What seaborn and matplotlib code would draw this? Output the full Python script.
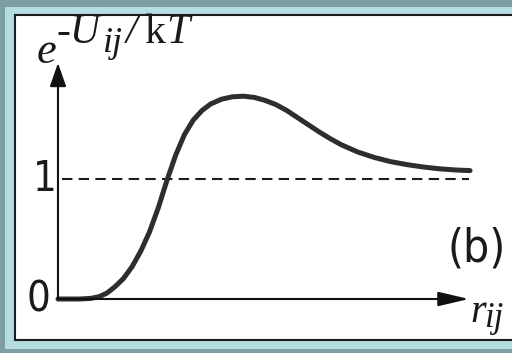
import matplotlib
matplotlib.use("Agg")
import matplotlib.pyplot as plt
from matplotlib.patches import Rectangle
import pandas as pd
import seaborn as sns

# Boltzmann factor exp(-U_ij/kT) against pair distance r_ij
r_ij = [0.00, 0.20, 0.30, 0.38, 0.45, 0.52, 0.60, 0.68, 0.76, 0.84, 0.92,
        1.00, 1.08, 1.16, 1.24, 1.32, 1.40, 1.50, 1.60, 1.70, 1.80, 1.90,
        2.00, 2.10, 2.20, 2.30, 2.40, 2.50, 2.60, 2.75, 2.90, 3.05, 3.20,
        3.35, 3.50, 3.65, 3.78]
boltzmann = [0.00, 0.00, 0.005, 0.02, 0.05, 0.10, 0.17, 0.27, 0.40, 0.56, 0.76,
             0.99, 1.20, 1.37, 1.49, 1.57, 1.625, 1.665, 1.685, 1.69, 1.68,
             1.655, 1.62, 1.57, 1.51, 1.45, 1.39, 1.335, 1.285, 1.225, 1.18,
             1.145, 1.12, 1.10, 1.085, 1.075, 1.07]
reference_level = [1.0, 1.0]
reference_span = [0.04, 3.77]
tick_values = [0, 1]
tick_labels = ["0", "1"]
panel_tag = "(b)"

sns.set_theme(style="white")
plt.rcParams["font.family"] = ["Liberation Sans Narrow", "DejaVu Sans"]

INK = "#1a1a1a"
narrow = dict(family=["Liberation Sans Narrow", "DejaVu Sans"],
              fontstretch="condensed", color=INK)
serif_it = dict(family=["Liberation Serif", "DejaVu Serif"], style="italic",
                color=INK)

fig = plt.figure(figsize=(5.12, 3.53), dpi=100)
fig.patch.set_facecolor("#7d9ea2")

# page frame: light band and the printed box
fig.add_artist(Rectangle((5 / 512, 4 / 353), 2.0, 342 / 353,
                         transform=fig.transFigure, facecolor="#b3dde0",
                         edgecolor="none", zorder=-2))
fig.add_artist(Rectangle((15 / 512, 13 / 353), 2.0, 325 / 353,
                         transform=fig.transFigure, facecolor="white",
                         edgecolor="#1c1c1c", linewidth=1.5, zorder=-1))

ax = fig.add_axes([0, 0, 1, 1])
ax.patch.set_alpha(0)
ax.set_xlim(-0.532, 4.165)
ax.set_ylim(-0.45, 2.4917)
ax.axis("off")

df = pd.DataFrame({"r": r_ij, "g": boltzmann})
sns.lineplot(data=df, x="r", y="g", ax=ax, color="#2e2e2e", linewidth=3.6,
             sort=False, estimator=None, solid_capstyle="round",
             solid_joinstyle="round", zorder=3)

ax.plot(reference_span, reference_level, color="#1c1c1c", linewidth=1.5,
        dashes=(5, 3), zorder=2)

# axes drawn as arrows
ax.annotate("", xy=(0.0, 1.967), xytext=(0.0, 0.0),
            arrowprops=dict(arrowstyle="-|>,head_length=0.72,head_width=0.25",
                            mutation_scale=20, color="#111111", lw=1.5,
                            shrinkA=0, shrinkB=0), zorder=4)
ax.annotate("", xy=(3.77, 0.0), xytext=(0.0, 0.0),
            arrowprops=dict(arrowstyle="-|>,head_length=0.94,head_width=0.22",
                            mutation_scale=20, color="#111111", lw=1.5,
                            shrinkA=0, shrinkB=0), zorder=4)

tick_x = [-0.18, -0.12]
for x, v, lab in zip(tick_x, tick_values, tick_labels):
    ax.text(x, v, lab, ha="center", va="center", fontsize=30, **narrow)

ax.text(3.844, 0.42, panel_tag, ha="center", va="center", fontsize=33, **narrow)

# ordinate label e^{-U_ij/kT}
ax.text(-0.193, 1.967, "e", ha="left", va="baseline", fontsize=32, **serif_it)
ax.text(-0.01, 2.133, "-U", ha="left", va="baseline", fontsize=30, **serif_it)
ax.text(0.41, 2.06, "ij", ha="left", va="baseline", fontsize=26, **serif_it)
ax.text(0.62, 2.133, "/", ha="left", va="baseline", fontsize=30, **serif_it)
ax.text(0.79, 2.133, "k", ha="left", va="baseline", fontsize=30,
        family=["Liberation Serif", "DejaVu Serif"], color=INK)
ax.text(0.99, 2.133, "T", ha="left", va="baseline", fontsize=30, **serif_it)

# abscissa label r_ij
ax.text(3.78, -0.19, "r", ha="left", va="baseline", fontsize=29, **serif_it)
ax.text(3.91, -0.23, "ij", ha="left", va="baseline", fontsize=25, **serif_it)

fig.savefig("out.png", dpi=100, facecolor=fig.get_facecolor())
